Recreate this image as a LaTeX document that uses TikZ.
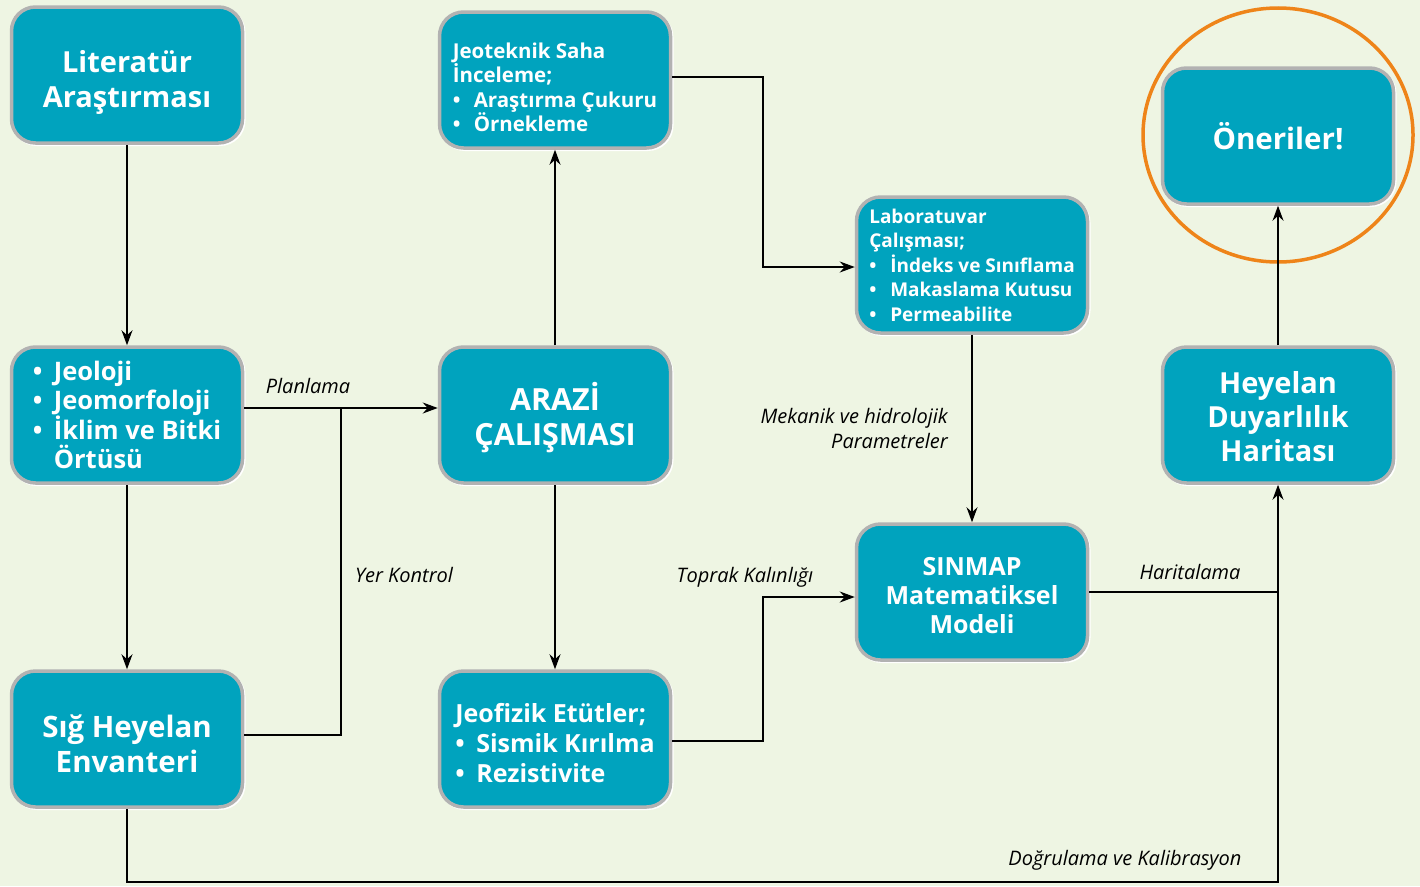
\documentclass[tikz,border=0pt]{standalone}
\usepackage{fontspec}
\setmainfont{Open Sans}
\usetikzlibrary{positioning,arrows.meta}

\definecolor{zemin}{HTML}{EEF5E3}
\definecolor{camgobegi}{HTML}{00A3BE}
\definecolor{turuncu}{HTML}{EE8419}

\newcommand{\mad}[1]{\makebox[21pt][l]{\textbullet}#1}
\newcommand{\ust}[1]{\rule{0pt}{#1}}

\tikzset{
  kutu/.style={draw=gray!60, line width=3.5pt, fill=camgobegi, rounded corners=24pt,
    minimum width=231pt, minimum height=136pt, text=white, align=center, inner sep=0pt,
    preaction={draw=white, line width=3pt, transform canvas={shift={(1.5pt,-1.5pt)}}}},
  ok/.style={-{Stealth[length=15pt,width=11pt]}, line width=1.3pt},
  hat/.style={line width=1.3pt},
  etiket/.style={font=\itshape\fontsize{20}{25}\selectfont, inner sep=0pt}
}

\begin{document}
\begin{tikzpicture}[x=1pt,y=-1pt]

\useasboundingbox (0,0) rectangle (1420,886);
\fill[zemin] (0,0) rectangle (1420,886);

% first column
\node[kutu, font=\bfseries\fontsize{29}{35}\selectfont] (literatur) at (127,75) {\ust{37pt}Literatür\\Araştırması};
\node[kutu, font=\bfseries\fontsize{25.5}{29}\selectfont, align=left] (jeoloji) at (127,415)
  {\mad{Jeoloji}\\\mad{Jeomorfoloji}\\\mad{İklim ve Bitki}\\\hspace*{21pt}Örtüsü};
\node[kutu, font=\bfseries\fontsize{29.5}{35}\selectfont] (sig) at (127,739) {\ust{32.5pt}Sığ Heyelan\\Envanteri};

% second column
\node[kutu, font=\bfseries\fontsize{20.5}{24.5}\selectfont, align=left] (jeoteknik) at (555,80)
  {\ust{30.6pt}Jeoteknik Saha\\İnceleme;\\\mad{Araştırma Çukuru}\\\mad{Örnekleme}};
\node[kutu, font=\bfseries\fontsize{30.5}{35}\selectfont] (arazi) at (555,415) {\ust{34pt}ARAZİ\\ÇALIŞMASI};
\node[kutu, font=\bfseries\fontsize{25}{30}\selectfont, align=left] (jeofizik) at (555,739)
  {\ust{27pt}Jeofizik Etütler;\\\mad{Sismik Kırılma}\\\mad{Rezistivite}};

% third column
\node[kutu, font=\bfseries\fontsize{19}{24.5}\selectfont, align=left] (lab) at (972,265)
  {Laboratuvar\\Çalışması;\\\mad{İndeks ve Sınıflama}\\\mad{Makaslama Kutusu}\\\mad{Permeabilite}};
\node[kutu, font=\bfseries\fontsize{25}{29}\selectfont] (sinmap) at (972,592) {\ust{26pt}SINMAP\\Matematiksel\\Modeli};

% fourth column
\node[kutu, font=\bfseries\fontsize{29.5}{35}\selectfont] (oneriler) at (1278,136) {Öneriler!};
\node[kutu, font=\bfseries\fontsize{29}{34}\selectfont] (duyarlilik) at (1278,415) {\ust{26pt}Heyelan\\Duyarlılık\\Haritası};
\draw[turuncu, line width=3.5pt] (1278,135) ellipse [x radius=135, y radius=127];

% bends
\coordinate (kavsak) at (341,408);
\coordinate (k1) at (763,77);
\coordinate (k2) at (763,741);
\coordinate (k3) at (127,882);

% connectors
\draw[ok] (literatur) -- (jeoloji);
\draw[ok] (jeoloji) -- (sig);
\draw[ok] ([yshift=7pt]jeoloji.east) -- ([yshift=7pt]arazi.west);
\draw[hat] ([yshift=4pt]sig.east) -| (kavsak);
\draw[ok] (arazi) -- (jeoteknik);
\draw[ok] (arazi) -- (jeofizik);
\draw[ok] ([yshift=3pt]jeoteknik.east) -- (k1) |- ([yshift=-2pt]lab.west);
\draw[ok] (lab) -- (sinmap);
\draw[ok] ([yshift=-2pt]jeofizik.east) -- (k2) |- ([yshift=-5pt]sinmap.west);
\draw[hat] (sinmap.east) -- (sinmap.east -| duyarlilik.south);
\draw[ok] (sig) -- (k3) -| (duyarlilik);
\draw[ok] (duyarlilik) -- (oneriler);

% labels
\node[etiket] (planlama) at (308,386) {Planlama};
\node[etiket] (yerkontrol) at (404,575) {Yer Kontrol};
\node[etiket, align=right, anchor=east] (parametre) at (948,428) {Mekanik ve hidrolojik\\Parametreler};
\node[etiket] (toprak) at (745,577) {Toprak Kalınlığı};
\node[etiket] (haritalama) at (1190,572) {Haritalama};
\node[etiket] (dogrulama) at (1125,860) {Doğrulama ve Kalibrasyon};

\end{tikzpicture}
\end{document}
